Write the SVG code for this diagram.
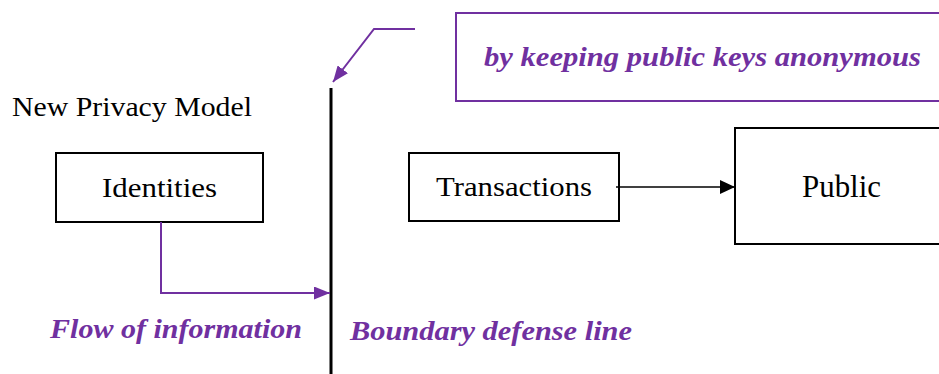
<svg xmlns="http://www.w3.org/2000/svg" width="939" height="374" viewBox="0 0 939 374">
<defs>
<style>
.box{fill:#fff;stroke:#000;stroke-width:2}
.lbl{font-family:"Liberation Serif","DejaVu Serif",serif;fill:#000}
.note{font-family:"Liberation Serif","DejaVu Serif",serif;font-style:italic;font-weight:bold;fill:#7030A0}
.pl{fill:none;stroke:#7030A0;stroke-width:2}
</style>
<marker id="ab" viewBox="0 0 10 10" refX="10" refY="5" markerWidth="15" markerHeight="14" markerUnits="userSpaceOnUse" orient="auto" preserveAspectRatio="none"><path d="M0,0 L10,5 L0,10 z" fill="#000"/></marker>
<marker id="ap" viewBox="0 0 10 10" refX="10" refY="5" markerWidth="16" markerHeight="13" markerUnits="userSpaceOnUse" orient="auto" preserveAspectRatio="none"><path d="M0,0 L10,5 L0,10 z" fill="#7030A0"/></marker>
</defs>
<rect width="939" height="374" fill="#fff"/>
<text x="12" y="116" class="lbl" font-size="27" textLength="240" lengthAdjust="spacingAndGlyphs">New Privacy Model</text>
<g id="note">
<rect x="456" y="13" width="490" height="88" class="pl"/>
<text x="484" y="66" class="note" font-size="28" textLength="437" lengthAdjust="spacingAndGlyphs">by keeping public keys anonymous</text>
</g>
<g id="boundary">
<line x1="331" y1="88" x2="331" y2="374" stroke="#000" stroke-width="3"/>
</g>
<g id="identities">
<rect x="56" y="153" width="207" height="69" class="box"/>
<text x="102" y="197" class="lbl" font-size="28" textLength="115" lengthAdjust="spacingAndGlyphs">Identities</text>
</g>
<g id="transactions">
<rect x="409" y="153" width="210" height="68" class="box"/>
<text x="436" y="196" class="lbl" font-size="28" textLength="156" lengthAdjust="spacingAndGlyphs">Transactions</text>
</g>
<g id="public">
<rect x="735" y="128" width="210" height="116" class="box"/>
<text x="802" y="197" class="lbl" font-size="31" textLength="79" lengthAdjust="spacingAndGlyphs">Public</text>
</g>
<g id="connectors">
<polyline points="161,222 161,293 330,293" class="pl" marker-end="url(#ap)"/>
<polyline points="415,29 374,29 333,82" class="pl" marker-end="url(#ap)"/>
<line x1="616" y1="187" x2="735" y2="187" stroke="#000" stroke-width="1.5" marker-end="url(#ab)"/>
</g>
<text x="50" y="338" class="note" font-size="27" textLength="252" lengthAdjust="spacingAndGlyphs">Flow of information</text>
<text x="350" y="340" class="note" font-size="27" textLength="282" lengthAdjust="spacingAndGlyphs">Boundary defense line</text>
</svg>
